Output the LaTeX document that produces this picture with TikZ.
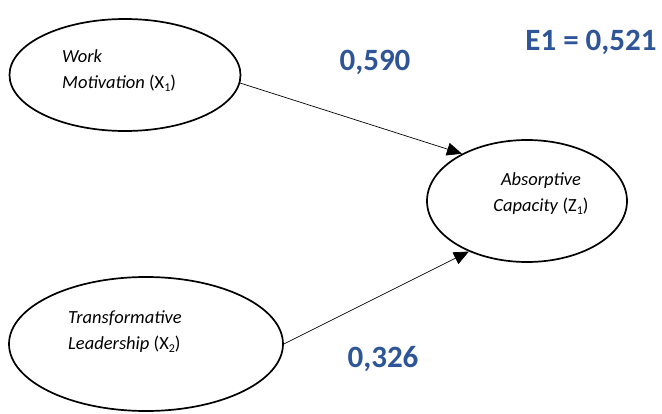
\documentclass[tikz,border=0pt]{standalone}
\usepackage{fontspec}
\setmainfont{Carlito}
\usetikzlibrary{shapes.geometric,arrows.meta}
\definecolor{coef}{HTML}{2E5597}
\newcommand{\mysub}[1]{\raisebox{-0.35ex}{\fontsize{12}{12}\selectfont #1}}
\tikzset{
  latent/.style={draw=black, line width=1.7pt, ellipse, inner sep=0pt},
  lbl/.style={align=left, font=\fontsize{18.5}{26}\selectfont, inner sep=0pt},
  clbl/.style={align=center, font=\fontsize{18.5}{26}\selectfont, inner sep=0pt},
  coefl/.style={text=coef, font=\fontsize{31}{36}\selectfont\bfseries, inner sep=0pt},
  path/.style={line width=0.7pt, -{Triangle[length=15pt,width=13pt]}}
}
\begin{document}
\begin{tikzpicture}[x=1pt,y=-1pt]
\useasboundingbox (0,0) rectangle (662,413);
\node[latent, minimum width=231, minimum height=112] (x1) at (125,75) {};
\node[latent, minimum width=274, minimum height=134] (x2) at (146,344) {};
\node[latent, minimum width=200, minimum height=122] (z1) at (527,201) {};
\node[lbl, anchor=west] (t1) at (62,71) {\textit{Work}\\\textit{Motivation} (X\mysub{1})};
\node[lbl, anchor=west] (t2) at (68,332) {\textit{Transformative}\\\textit{Leadership} (X\mysub{2})};
\node[clbl] (t3) at (541,194) {\textit{Absorptive}\\\textit{Capacity} (Z\mysub{1})};
\draw[path] (x1.-4) -- (z1.144);
\draw[path] (x2.0) -- (z1.221);
\node[coefl] (c1) at (375,62) {0,590};
\node[coefl] (e1) at (591,42) {E1 = 0,521};
\node[coefl] (c2) at (383,359) {0,326};
\end{tikzpicture}
\end{document}
